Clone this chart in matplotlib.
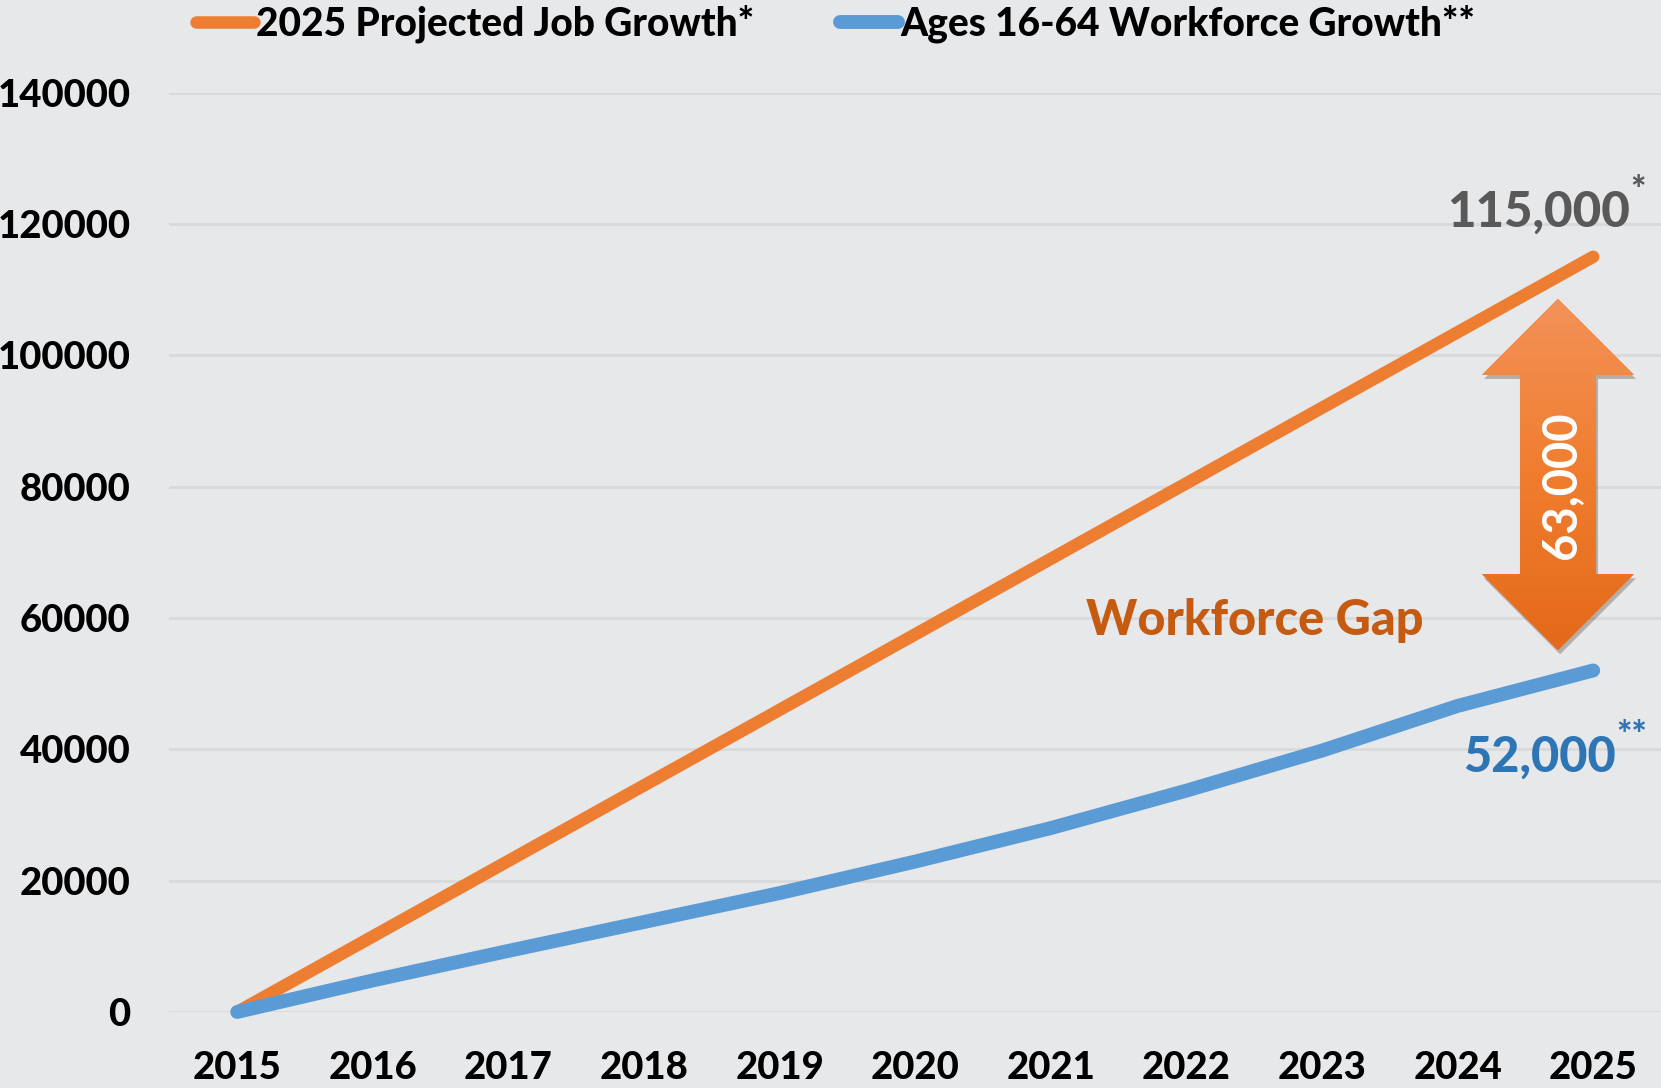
import matplotlib
matplotlib.use("Agg")
import matplotlib.pyplot as plt
import matplotlib.patheffects as pe
from matplotlib.patches import Polygon
from matplotlib.colors import LinearSegmentedColormap
import numpy as np

# Datos
anios = [2015, 2016, 2017, 2018, 2019, 2020, 2021, 2022, 2023, 2024, 2025]
empleos = [0, 11500, 23000, 34500, 46000, 57500, 69000, 80500, 92000, 103500, 115000]
fuerza_laboral = [0, 4800, 9300, 13700, 18100, 22900, 28000, 33700, 39800, 46600, 52000]
etiquetas_y = [0, 20000, 40000, 60000, 80000, 100000, 120000, 140000]

serie_empleos = "2025 Projected Job Growth*"
serie_fuerza = "Ages 16-64 Workforce Growth**"
brecha = 63000

fuente = "Lato"
fondo = "#E7E8EA"
naranja = "#ED7D31"
azul = "#5B9BD5"

fig = plt.figure(figsize=(16.61, 10.88), dpi=100, facecolor=fondo)
ax = fig.add_axes([0.102, 0.0699, 0.898, 0.845])
ax.set_facecolor(fondo)

l1, = ax.plot(anios, empleos, color=naranja, lw=9, solid_capstyle="round",
              label=serie_empleos, clip_on=False, zorder=3)
l2, = ax.plot(anios, fuerza_laboral, color=azul, lw=10, solid_capstyle="round",
              label=serie_fuerza, clip_on=False, zorder=3)

ax.set_xlim(2014.5, 2025.5)
ax.set_ylim(0, 140000)
ax.set_xticks(anios)
ax.set_xticklabels([str(a) for a in anios])
ax.set_yticks(etiquetas_y)
ax.set_yticklabels([str(v) for v in etiquetas_y])
ax.tick_params(length=0, labelsize=27.5, pad=28)
for lab in ax.get_xticklabels() + ax.get_yticklabels():
    lab.set_fontfamily(fuente)
    lab.set_fontweight(900)
ax.grid(axis="y", color="#D9D9D9", lw=2)
ax.set_axisbelow(True)
for s in ax.spines.values():
    s.set_visible(False)

# Leyenda arriba
fig.legend(handles=[l1, l2], loc="center", bbox_to_anchor=(0.503, 0.978), ncol=2,
           frameon=False, handlelength=1.5, handletextpad=0.05, columnspacing=2.2,
           prop={"family": fuente, "weight": 900, "size": 28})

# Etiquetas de los valores finales
ax.text(2025.27, 121800, "115,000", ha="right", va="center", color="#595959",
        fontsize=35.5, fontweight=900, family=fuente)
ax.annotate("*", xy=(2025.27, 121800), xytext=(0, 3), textcoords="offset points",
            ha="left", va="bottom", color="#595959", fontsize=26, fontweight=900,
            family=fuente)
ax.text(2025.17, 38800, "52,000", ha="right", va="center", color="#2E75B6",
        fontsize=35, fontweight=900, family=fuente)
ax.annotate("**", xy=(2025.17, 38800), xytext=(0, 3), textcoords="offset points",
            ha="left", va="bottom", color="#2E75B6", fontsize=26, fontweight=900,
            family=fuente)
ax.text(2021.26, 59600, "Workforce Gap", ha="left", va="center", color="#C55A11",
        fontsize=35, fontweight=900, family=fuente)

# Flecha doble con degradado
xc = 2024.74
y_arriba, y_abajo = 108600, 55100
cabeza = 11570
ancho_cabeza, ancho_cuerpo = 0.56, 0.28
verts = [
    (xc, y_arriba),
    (xc + ancho_cabeza, y_arriba - cabeza),
    (xc + ancho_cuerpo, y_arriba - cabeza),
    (xc + ancho_cuerpo, y_abajo + cabeza),
    (xc + ancho_cabeza, y_abajo + cabeza),
    (xc, y_abajo),
    (xc - ancho_cabeza, y_abajo + cabeza),
    (xc - ancho_cuerpo, y_abajo + cabeza),
    (xc - ancho_cuerpo, y_arriba - cabeza),
    (xc - ancho_cabeza, y_arriba - cabeza),
]
flecha = Polygon(verts, closed=True, facecolor="#F07D2E", edgecolor="none",
                 zorder=4, clip_on=False,
                 path_effects=[pe.SimplePatchShadow(offset=(1.5, -3), alpha=0.3),
                               pe.Normal()])
ax.add_patch(flecha)
cmap = LinearSegmentedColormap.from_list("grad", ["#F39259", "#F07D2E", "#E4691A"])
grad = np.linspace(0, 1, 256).reshape(-1, 1)
img = ax.imshow(grad, cmap=cmap, aspect="auto", zorder=5,
                extent=(xc - ancho_cabeza, xc + ancho_cabeza, y_abajo, y_arriba),
                origin="upper", clip_on=True)
img.set_clip_path(flecha)
ax.text(xc + 0.02, 80240, f"{brecha:,}", rotation=90, ha="center", va="center",
        color="white", fontsize=34, fontweight="bold", family=fuente, zorder=6)

ax.set_xlim(2014.5, 2025.5)
ax.set_ylim(0, 140000)

fig.savefig("out.png", dpi=100, facecolor=fondo)
